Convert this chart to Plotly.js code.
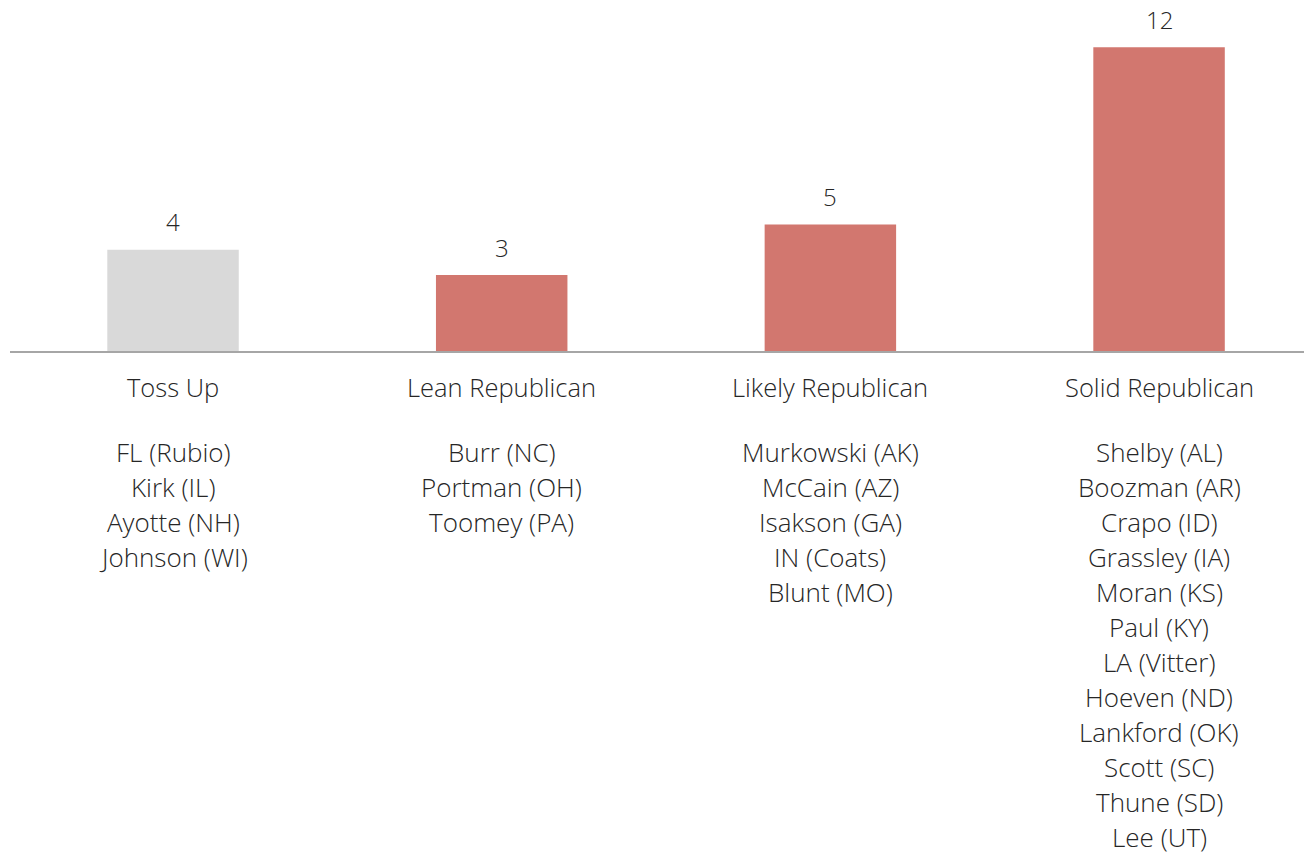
<!DOCTYPE html>
<html>
<head>
<meta charset="utf-8">
<script src="https://cdn.plot.ly/plotly-3.0.1.min.js"></script>
<style>html,body{margin:0;padding:0;background:#fff;}#chart{width:1304px;height:854px;}</style>
</head>
<body>
<div id="chart"></div>
<script>
const categories = ["Toss Up", "Lean Republican", "Likely Republican", "Solid Republican"];
const seatCounts = [4, 3, 5, 12];
const barColors = ["#d9d9d9", "#d2776f", "#d2776f", "#d2776f"];
const senators = [
  ["FL (Rubio)", "Kirk (IL)", "Ayotte (NH)", "Johnson (WI)"],
  ["Burr (NC)", "Portman (OH)", "Toomey (PA)"],
  ["Murkowski (AK)", "McCain (AZ)", "Isakson (GA)", "IN (Coats)", "Blunt (MO)"],
  ["Shelby (AL)", "Boozman (AR)", "Crapo (ID)", "Grassley (IA)", "Moran (KS)", "Paul (KY)",
   "LA (Vitter)", "Hoeven (ND)", "Lankford (OK)", "Scott (SC)", "Thune (SD)", "Lee (UT)"]
];

const FONT = "Open Sans, Noto Sans, sans-serif";
const TXT = "#262626";
const plotH = 351; // px height of plot area

function paperY(py) { return (plotH - py) / plotH; }

const annotations = [];
categories.forEach((c, i) => {
  annotations.push({
    x: c, xref: "x", y: seatCounts[i], yref: "y",
    text: String(seatCounts[i]), showarrow: false,
    yanchor: "middle", yshift: 28,
    font: {family: FONT, size: 24, color: TXT, weight: 300}
  });
  annotations.push({
    x: c, xref: "x", y: paperY(387), yref: "paper",
    text: c, showarrow: false, yanchor: "middle",
    font: {family: FONT, size: 25.5, color: TXT, weight: 300}
  });
  senators[i].forEach((s, j) => {
    annotations.push({
      x: c, xref: "x", y: paperY(452 + j * 35), yref: "paper",
      text: s, showarrow: false, yanchor: "middle",
      font: {family: FONT, size: 26, color: TXT, weight: 300}
    });
  });
});

const data = [{
  type: "bar",
  x: categories,
  y: seatCounts,
  marker: {color: barColors},
  width: 0.4,
  hoverinfo: "none"
}];

const layout = {
  width: 1304, height: 854,
  margin: {l: 10, r: 0, t: 0, b: 854 - plotH},
  paper_bgcolor: "#ffffff", plot_bgcolor: "#ffffff",
  showlegend: false,
  xaxis: {
    type: "category",
    range: [-0.496, 3.441],
    showline: true, linecolor: "#a6a6a6", linewidth: 2,
    showticklabels: false, ticks: "", showgrid: false, zeroline: false, fixedrange: true
  },
  yaxis: {
    range: [0, 13.87],
    visible: false, showgrid: false, zeroline: false, fixedrange: true
  },
  annotations: annotations
};

Plotly.newPlot("chart", data, layout, {displayModeBar: false, staticPlot: true});
</script>
</body>
</html>
